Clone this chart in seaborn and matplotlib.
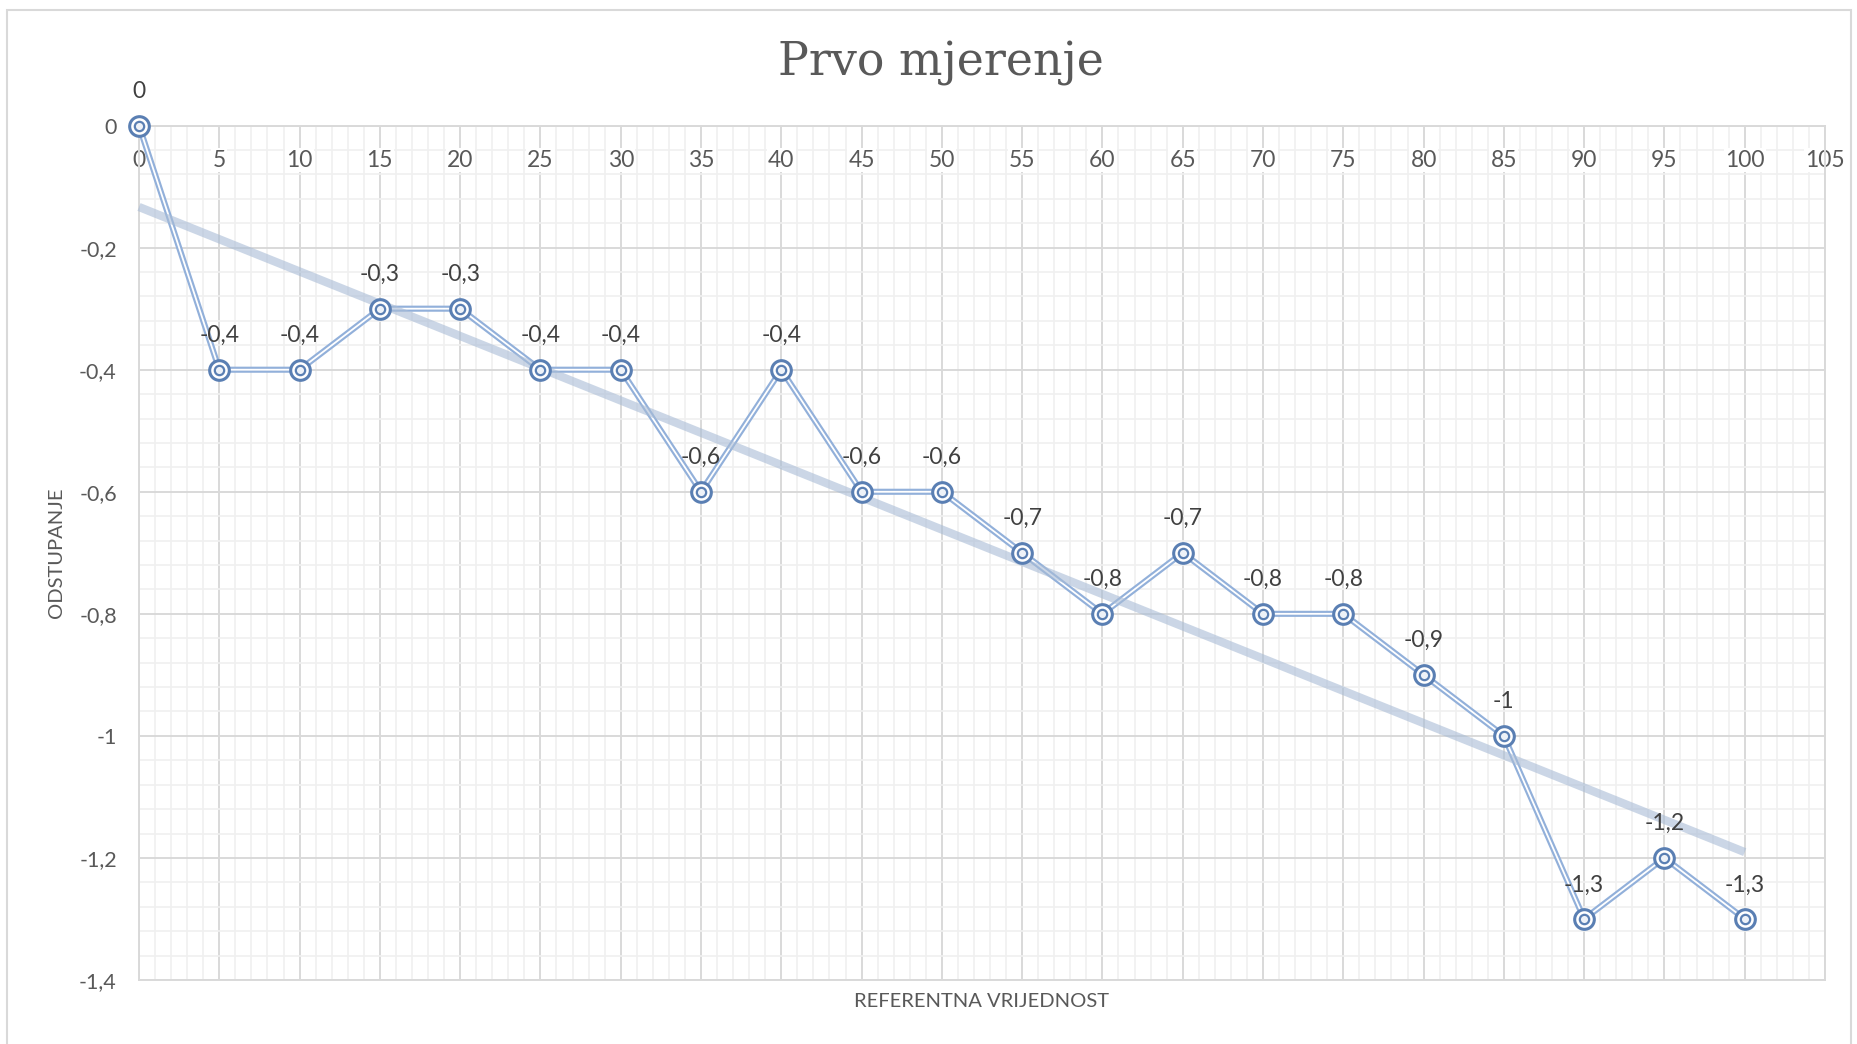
import numpy as np
import pandas as pd
import matplotlib
matplotlib.use("Agg")
import matplotlib.pyplot as plt
import seaborn as sns
from matplotlib.ticker import MultipleLocator, FuncFormatter
from matplotlib.patches import Rectangle
from matplotlib.transforms import offset_copy

# ---- data ----
referentna = [0, 5, 10, 15, 20, 25, 30, 35, 40, 45, 50, 55, 60, 65, 70, 75, 80, 85, 90, 95, 100]
odstupanje = [0, -0.4, -0.4, -0.3, -0.3, -0.4, -0.4, -0.6, -0.4, -0.6, -0.6, -0.7, -0.8, -0.7,
              -0.8, -0.8, -0.9, -1.0, -1.3, -1.2, -1.3]
x_ticks = [0, 5, 10, 15, 20, 25, 30, 35, 40, 45, 50, 55, 60, 65, 70, 75, 80, 85, 90, 95, 100, 105]
title = "Prvo mjerenje"
xlabel = "REFERENTNA VRIJEDNOST"
ylabel = "ODSTUPANJE"

df = pd.DataFrame({"x": referentna, "y": odstupanje})

sns.set_theme(style="white")
plt.rcParams['font.family'] = ['Lato', 'DejaVu Sans']

fig = plt.figure(figsize=(18.58, 10.44), dpi=100)
ax = fig.add_axes([139/1858, 1-980/1044, (1825-139)/1858, (980-125.6)/1044])

def comma(v, pos=None):
    if abs(v) < 1e-9:
        return "0"
    s = ("%.1f" % v).rstrip("0").rstrip(".")
    return s.replace(".", ",")

major_c = "#d9d9d9"
minor_c = "#f0f0f0"
ax.set_xlim(0, 105)
ax.set_ylim(-1.4, 0)
ax.set_xticks(x_ticks)
ax.xaxis.set_minor_locator(MultipleLocator(1))
ax.yaxis.set_major_locator(MultipleLocator(0.2))
ax.yaxis.set_minor_locator(MultipleLocator(0.04))
ax.grid(which="major", color=major_c, lw=1.4)
ax.grid(which="minor", color=minor_c, lw=1.2)
ax.set_axisbelow(True)
for s in ax.spines.values():
    s.set_color(major_c)
    s.set_linewidth(1.4)

ax.yaxis.set_major_formatter(FuncFormatter(comma))
ax.tick_params(axis="x", which="both", top=False, bottom=False, labeltop=False, labelbottom=False, length=0)
ax.tick_params(axis="y", which="both", left=False, length=0, pad=16, labelsize=15.5, labelcolor="#595959")

# x tick labels just below the y=0 axis line, with white background
lab_tr = offset_copy(ax.get_xaxis_transform(), fig=fig, x=0, y=-25, units="points")
for xv in x_ticks:
    ax.text(xv, 1.0, "%d" % xv, transform=lab_tr, ha="center", va="center", fontsize=16.5,
            color="#595959", zorder=2, clip_on=False,
            bbox=dict(facecolor="white", edgecolor="none", pad=1.0))

# data line (double line effect)
sns.lineplot(data=df, x="x", y="y", ax=ax, color="#92b0da", lw=4.4, zorder=3, legend=False)
sns.lineplot(data=df, x="x", y="y", ax=ax, color="white", lw=1.3, zorder=3.1, legend=False)

# trend line
sns.regplot(data=df, x="x", y="y", ax=ax, scatter=False, ci=None, truncate=True,
            line_kws=dict(color="#a9bcd6", lw=6, alpha=0.6, zorder=3.5, solid_capstyle="butt"))

# markers (double circle)
sns.scatterplot(data=df, x="x", y="y", ax=ax, s=200, facecolor="white", edgecolor="#5a7fb3",
                linewidth=2.2, zorder=4, clip_on=False, legend=False)
sns.scatterplot(data=df, x="x", y="y", ax=ax, s=45, facecolor="#eef2f8", edgecolor="#5a7fb3",
                linewidth=1.6, zorder=4.1, clip_on=False, legend=False)
for line in ax.lines:
    line.set_clip_on(False)

for xv, yv in zip(referentna, odstupanje):
    ax.annotate(comma(yv), (xv, yv), xytext=(0, 17), textcoords="offset points",
                ha="center", va="bottom", fontsize=16.5, color="#404040", zorder=5)

ax.set_xlabel("")
ax.text(0.5, -0.0246, xlabel, transform=ax.transAxes, ha="center", va="center",
        fontsize=14.5, color="#595959", clip_on=False)
ax.set_ylabel(ylabel, fontsize=14.5, color="#595959", labelpad=10)
fig.text(941/1858, 1-63/1044, title, ha="center", va="center", fontsize=33,
         color="#595959", family=["DejaVu Serif"])

fig.patches.append(Rectangle((7/1858, -0.05), 1844/1858, 1.05-10/1044, transform=fig.transFigure,
                             fill=False, edgecolor="#d9d9d9", lw=1.5))
fig.savefig("out.png", dpi=100)
